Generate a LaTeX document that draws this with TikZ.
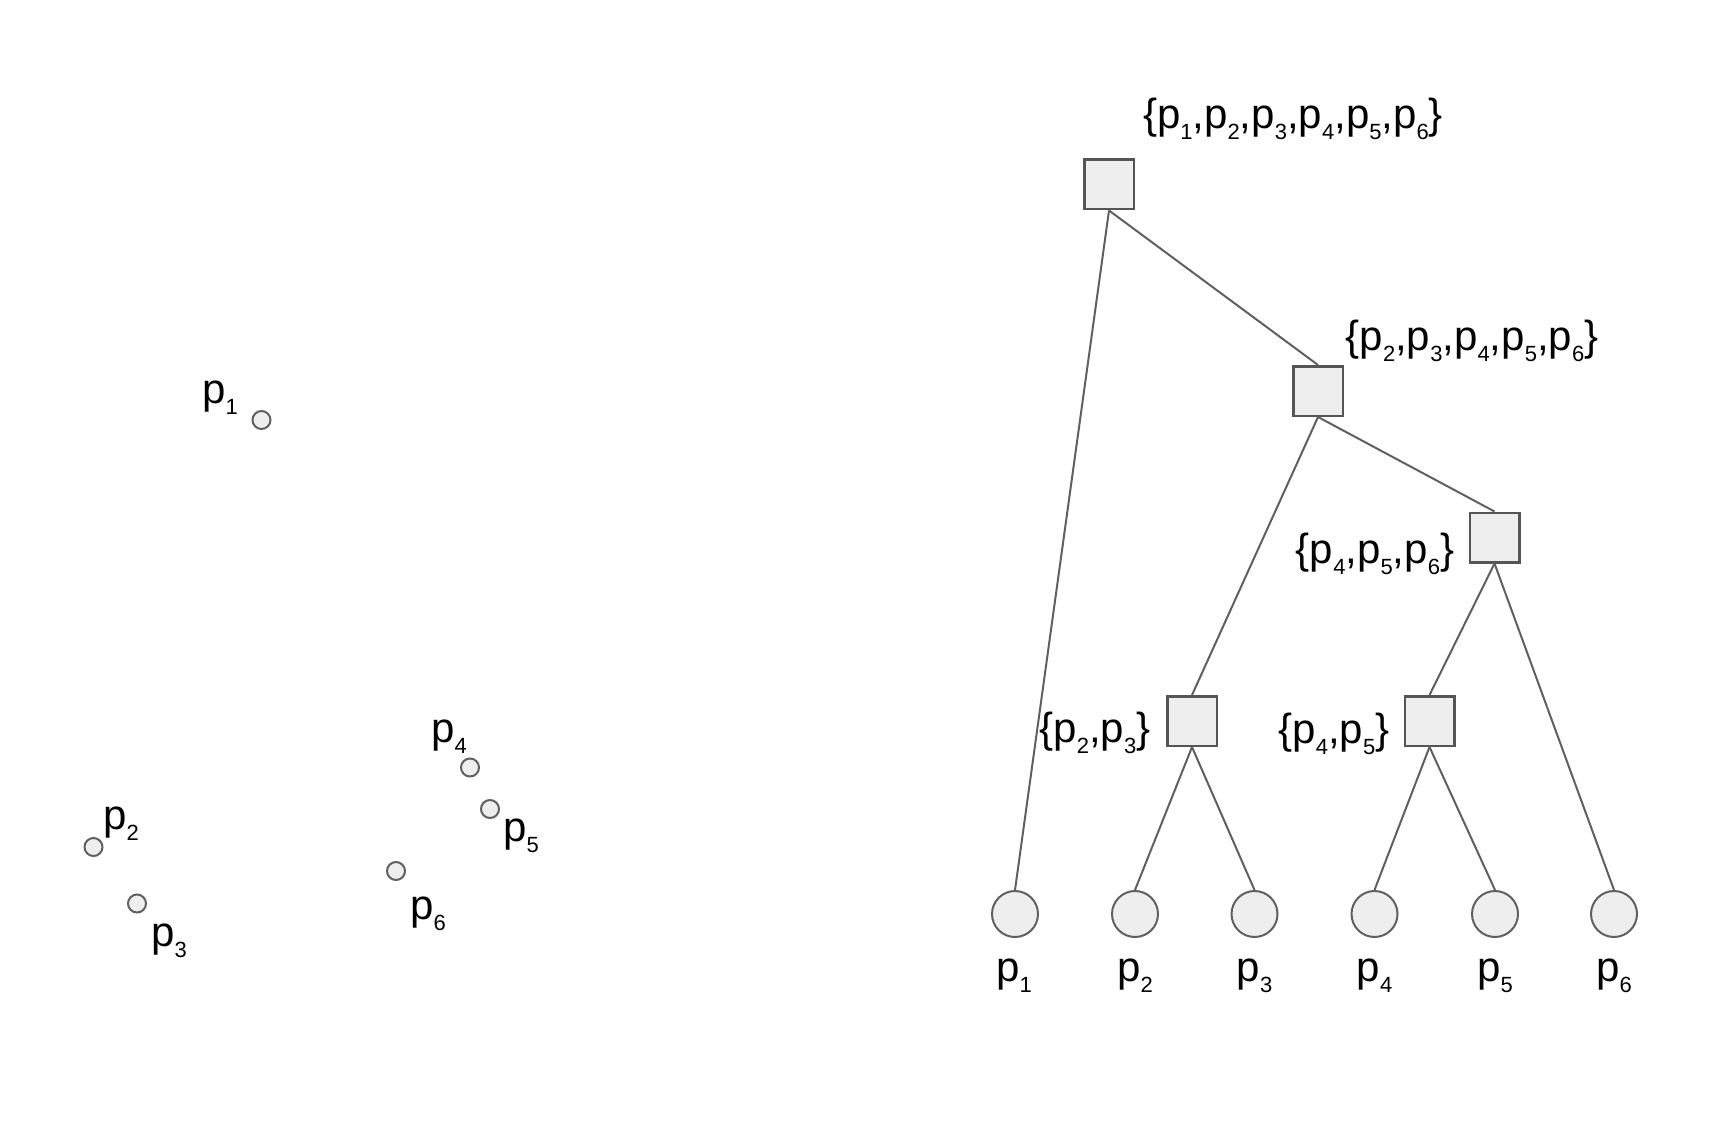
\documentclass[tikz,border=0pt]{standalone}
\usepackage{fontspec}
\setmainfont{Liberation Sans}
\newcommand{\psub}[1]{p\raisebox{-11pt}{\fontsize{22}{22}\selectfont #1}}
\definecolor{nodefill}{HTML}{EEEEEE}
\definecolor{sqborder}{HTML}{555555}
\definecolor{circborder}{HTML}{606060}
\definecolor{edgecol}{HTML}{606060}
\begin{document}
\begin{tikzpicture}[x=1pt,y=-1pt,
  lab/.style={inner sep=0pt, font=\fontsize{42}{50}\selectfont},
  sq/.style={draw=sqborder, fill=nodefill, line width=2.5pt, minimum size=49.5pt, inner sep=0pt},
  leaf/.style={circle, draw=circborder, fill=nodefill, line width=2pt, minimum size=46pt, inner sep=0pt},
  dot/.style={circle, draw=circborder, fill=nodefill, line width=2pt, minimum size=18pt, inner sep=0pt},
  edge/.style={draw=edgecol, line width=2pt}]
\useasboundingbox[fill=white] (0,0) rectangle (1731,1139);

% left scatter
\node[dot] (d1) at (261.5,420) {};
\node[dot] (d2) at (93.5,847) {};
\node[dot] (d3) at (137,903.5) {};
\node[dot] (d4) at (470,767.5) {};
\node[dot] (d5) at (490,809) {};
\node[dot] (d6) at (396,871) {};
\node[lab] (t1) at (220,398) {\psub{1}};
\node[lab] (t2) at (121,824) {\psub{2}};
\node[lab] (t3) at (169,941) {\psub{3}};
\node[lab] (t4) at (449,737) {\psub{4}};
\node[lab] (t5) at (521,836) {\psub{5}};
\node[lab] (t6) at (428,914) {\psub{6}};

% tree
\node[sq] (R) at (1109,184.5) {};
\node[sq] (A) at (1318,391) {};
\node[sq] (B) at (1494.5,537.5) {};
\node[sq] (C) at (1192,721) {};
\node[sq] (D) at (1429.5,721) {};

\node[leaf] (L1) at (1015,914) {};
\node[leaf] (L2) at (1135,914) {};
\node[leaf] (L3) at (1254.5,914) {};
\node[leaf] (L4) at (1374.5,914) {};
\node[leaf] (L5) at (1495,914) {};
\node[leaf] (L6) at (1614,914) {};

\node[lab] (lR) at (1293,119) {\{\psub{1},\psub{2},\psub{3},\psub{4},\psub{5},\psub{6}\}};
\node[lab] (lA) at (1472,341) {\{\psub{2},\psub{3},\psub{4},\psub{5},\psub{6}\}};
\node[lab] (lB) at (1375,554) {\{\psub{4},\psub{5},\psub{6}\}};
\node[lab] (lC) at (1095,733) {\{\psub{2},\psub{3}\}};
\node[lab] (lD) at (1334,734) {\{\psub{4},\psub{5}\}};

\node[lab] (n1) at (1014,976) {\psub{1}};
\node[lab] (n2) at (1135,976) {\psub{2}};
\node[lab] (n3) at (1254.5,976) {\psub{3}};
\node[lab] (n4) at (1374.5,976) {\psub{4}};
\node[lab] (n5) at (1495,976) {\psub{5}};
\node[lab] (n6) at (1614,976) {\psub{6}};

\draw[edge] (R.south) -- (L1.north);
\draw[edge] (R.south) -- (A.north);
\draw[edge] (A.south) -- (C.north);
\draw[edge] (A.south) -- (B.north);
\draw[edge] (B.south) -- (D.north);
\draw[edge] (B.south) -- (L6.north);
\draw[edge] (C.south) -- (L2.north);
\draw[edge] (C.south) -- (L3.north);
\draw[edge] (D.south) -- (L4.north);
\draw[edge] (D.south) -- (L5.north);
\end{tikzpicture}
\end{document}
